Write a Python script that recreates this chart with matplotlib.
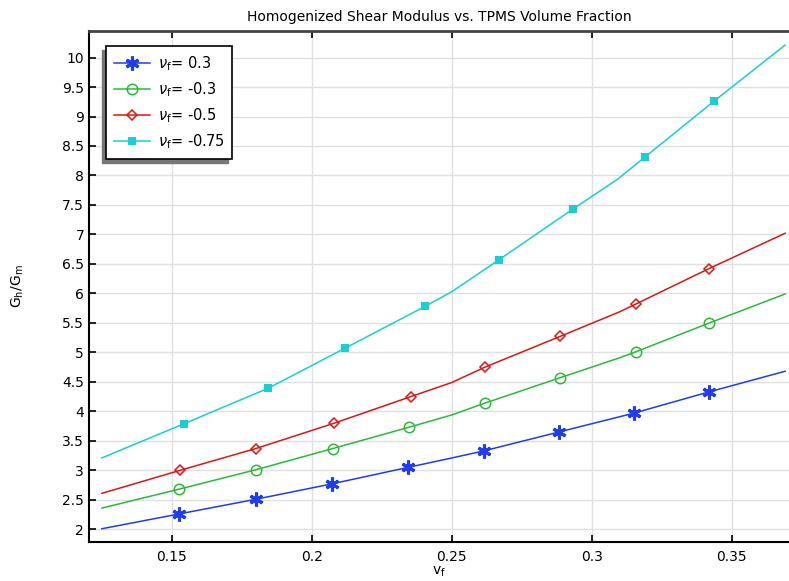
import numpy as np
import matplotlib.pyplot as plt

# data (line vertices; markers sit on the inner points)
x_a = [0.125, 0.1525, 0.180, 0.2071, 0.2343, 0.25, 0.2614, 0.2882, 0.31, 0.315, 0.3418, 0.369]
y_a = [2.01, 2.26, 2.51, 2.77, 3.05, 3.21, 3.33, 3.65, 3.91, 3.97, 4.33, 4.68]
mk_a = [1, 2, 3, 4, 6, 7, 9, 10]

x_b = [0.125, 0.1525, 0.180, 0.2075, 0.2346, 0.25, 0.2618, 0.2886, 0.31, 0.3157, 0.342, 0.369]
y_b = [2.36, 2.68, 3.01, 3.37, 3.73, 3.94, 4.14, 4.57, 4.91, 5.01, 5.50, 5.99]
mk_b = [1, 2, 3, 4, 6, 7, 9, 10]

x_c = [0.125, 0.1529, 0.180, 0.208, 0.2353, 0.25, 0.2618, 0.2886, 0.31, 0.3157, 0.3418, 0.369]
y_c = [2.61, 3.00, 3.37, 3.80, 4.25, 4.49, 4.75, 5.27, 5.69, 5.82, 6.42, 7.02]
mk_c = [1, 2, 3, 4, 6, 7, 9, 10]

x_d = [0.125, 0.1543, 0.1843, 0.2118, 0.2404, 0.25, 0.2668, 0.2932, 0.3093, 0.3189, 0.3436, 0.369]
y_d = [3.21, 3.79, 4.39, 5.07, 5.78, 6.03, 6.57, 7.43, 7.94, 8.31, 9.26, 10.21]
mk_d = [1, 2, 3, 4, 6, 7, 9, 10]

labels = [r'$\nu_\mathrm{f}$= 0.3', r'$\nu_\mathrm{f}$= -0.3',
          r'$\nu_\mathrm{f}$= -0.5', r'$\nu_\mathrm{f}$= -0.75']

fig = plt.figure(figsize=(7.89, 5.81), dpi=100)
ax = fig.add_axes([89/789, 39/581, 700/789, 511/581])

ax.plot(x_a, y_a, color='#1f3cf2', lw=1.1, marker=(6, 2, 0), ms=10, mew=2.2,
        markevery=mk_a, label=labels[0])
ax.plot(x_b, y_b, color='#2db83d', lw=1.1, marker='o', ms=7.5, mfc='none', mew=1.1,
        markevery=mk_b, label=labels[1])
ax.plot(x_c, y_c, color='#dd1515', lw=1.1, marker='D', ms=5.5, mfc='none', mew=1.1,
        markevery=mk_c, label=labels[2])
ax.plot(x_d, y_d, color='#18cfd2', lw=1.1, marker='s', ms=6, mew=0,
        markevery=mk_d, label=labels[3])

ax.set_xlim(0.1204, 0.3704)
ax.set_ylim(1.785, 10.45)
ax.set_xticks([0.15, 0.2, 0.25, 0.3, 0.35])
ax.set_xticklabels(['0.15', '0.2', '0.25', '0.3', '0.35'])
yt = np.arange(2, 10.01, 0.5)
ax.set_yticks(yt)
ax.set_yticklabels(['%g' % v for v in yt])
ax.grid(True, color='#e0e0e0', lw=1)
ax.set_axisbelow(True)
ax.tick_params(direction='in', length=5, width=1.2, labelsize=10, top=True, color='black')
ax.tick_params(axis='x', pad=6)

for s in ['left', 'bottom']:
    ax.spines[s].set_linewidth(1.5)
ax.spines['top'].set_linewidth(2)
ax.spines['top'].set_color('#444444')
ax.spines['right'].set_visible(False)

ax.set_title('Homogenized Shear Modulus vs. TPMS Volume Fraction', fontsize=10, pad=7)
ax.set_xlabel(r'v$_\mathrm{f}$', fontsize=10, labelpad=0)
ax.set_ylabel(r'G$_\mathrm{h}$/G$_\mathrm{m}$', fontsize=10, labelpad=26)

leg = ax.legend(loc='upper left', bbox_to_anchor=(0.024, 0.97), fontsize=10.5,
                fancybox=False, edgecolor='black', framealpha=1, borderpad=0.55,
                handlelength=2.5, handletextpad=0.5, labelspacing=0.5, borderaxespad=0)
leg.get_frame().set_linewidth(1.2)
leg.set_zorder(5)
fig.canvas.draw()
bb = leg.get_window_extent().transformed(fig.transFigure.inverted())
shadow = plt.Rectangle((bb.x0 - 4/789, bb.y0 - 4/581), bb.width, bb.height,
                       transform=fig.transFigure, color='#777777', zorder=4.5)
ax.add_artist(shadow)

fig.savefig('out.png', dpi=100)
